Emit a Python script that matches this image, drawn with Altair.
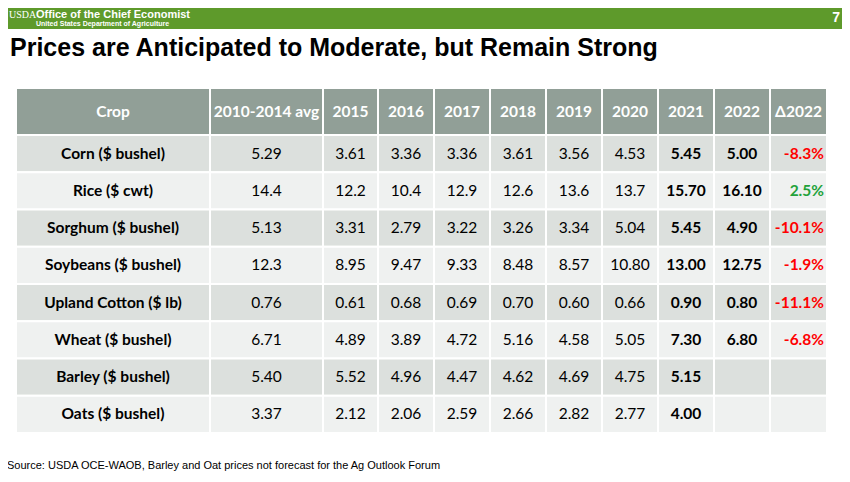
import altair as alt
import pandas as pd

# ---------------- data ----------------
columns = ["Crop", "2010-2014 avg", "2015", "2016", "2017", "2018", "2019",
           "2020", "2021", "2022", "\u03942022"]
crops = ["Corn ($ bushel)", "Rice ($ cwt)", "Sorghum ($ bushel)",
         "Soybeans ($ bushel)", "Upland Cotton ($ lb)", "Wheat ($ bushel)",
         "Barley ($ bushel)", "Oats ($ bushel)"]
avg_2010_2014 = ["5.29", "14.4", "5.13", "12.3", "0.76", "6.71", "5.40", "3.37"]
p2015 = ["3.61", "12.2", "3.31", "8.95", "0.61", "4.89", "5.52", "2.12"]
p2016 = ["3.36", "10.4", "2.79", "9.47", "0.68", "3.89", "4.96", "2.06"]
p2017 = ["3.36", "12.9", "3.22", "9.33", "0.69", "4.72", "4.47", "2.59"]
p2018 = ["3.61", "12.6", "3.26", "8.48", "0.70", "5.16", "4.62", "2.66"]
p2019 = ["3.56", "13.6", "3.34", "8.57", "0.60", "4.58", "4.69", "2.82"]
p2020 = ["4.53", "13.7", "5.04", "10.80", "0.66", "5.05", "4.75", "2.77"]
p2021 = ["5.45", "15.70", "5.45", "13.00", "0.90", "7.30", "5.15", "4.00"]
p2022 = ["5.00", "16.10", "4.90", "12.75", "0.80", "6.80", "", ""]
delta2022 = ["-8.3%", "2.5%", "-10.1%", "-1.9%", "-11.1%", "-6.8%", "", ""]

title = "Prices are Anticipated to Moderate, but Remain Strong"
source = "Source: USDA OCE-WAOB, Barley and Oat prices not forecast for the Ag Outlook Forum"

# ---------------- layout / style ----------------
W, H = 834, 466
col_widths = [194, 113, 55, 56, 56, 56, 56, 56, 56, 56, 57]
table_left = 8
header_top, header_h, row_h = 80, 47, 37.25
FONT = "Lato"
HEADER_FILL = "#919f97"
ROW_FILLS = ["#dce0dd", "#eff1f0"]
GREEN_BAR = "#5e9a2b"

col_edges = [table_left]
for w in col_widths:
    col_edges.append(col_edges[-1] + w)

body_cols = [avg_2010_2014, p2015, p2016, p2017, p2018, p2019, p2020, p2021, p2022]

rects, texts = [], []
# header
for j, name in enumerate(columns):
    x0, x1 = col_edges[j], col_edges[j + 1]
    rects.append(dict(x0=x0, x1=x1, y0=header_top, y1=header_top + header_h, fill=HEADER_FILL))
    texts.append(dict(x=(x0 + x1) / 2, y=header_top + header_h / 2, t=name,
                      color="white", kind="bold"))
# body
for i, crop in enumerate(crops):
    y0 = header_top + header_h + i * row_h
    y1 = y0 + row_h
    yc = (y0 + y1) / 2
    fill = ROW_FILLS[i % 2]
    for j in range(len(columns)):
        rects.append(dict(x0=col_edges[j], x1=col_edges[j + 1], y0=y0, y1=y1, fill=fill))
    texts.append(dict(x=(col_edges[0] + col_edges[1]) / 2, y=yc, t=crop, color="black", kind="bold"))
    for k, vals in enumerate(body_cols):
        j = k + 1
        kind = "bold" if columns[j] in ("2021", "2022") else "normal"
        texts.append(dict(x=(col_edges[j] + col_edges[j + 1]) / 2, y=yc, t=vals[i],
                          color="black", kind=kind))
    d = delta2022[i]
    if d:
        texts.append(dict(x=col_edges[-1] - 3, y=yc, t=d,
                          color="#ff0000" if d.startswith("-") else "#22a23a", kind="right"))

rdf = pd.DataFrame(rects)
tdf = pd.DataFrame(texts)

xs = alt.Scale(domain=[0, W], range=[0, W], nice=False, zero=False)
ys = alt.Scale(domain=[0, H], range=[0, H], nice=False, zero=False)

cells = alt.Chart(rdf).mark_rect(stroke="white", strokeWidth=2).encode(
    x=alt.X("x0:Q", scale=xs, axis=None), x2="x1:Q",
    y=alt.Y("y0:Q", scale=ys, axis=None), y2="y1:Q",
    color=alt.Color("fill:N", scale=None),
)

def text_layer(kind, weight, align):
    return alt.Chart(tdf[tdf.kind == kind]).mark_text(
        font=FONT, fontSize=15.5, fontWeight=weight, align=align, baseline="middle"
    ).encode(
        x=alt.X("x:Q", scale=xs, axis=None),
        y=alt.Y("y:Q", scale=ys, axis=None),
        text="t:N",
        color=alt.Color("color:N", scale=None),
    )

t_norm = text_layer("normal", "normal", "center")
t_bold = text_layer("bold", "bold", "center")
t_right = text_layer("right", "bold", "right")

# banner
banner_df = pd.DataFrame({"a": [0]})
banner = alt.Chart(banner_df).mark_rect(color=GREEN_BAR).encode(
    x=alt.value(0), x2=alt.value(W), y=alt.value(0), y2=alt.value(21))
usda = alt.Chart(banner_df).mark_text(
    text="USDA", font="Liberation Serif", fontSize=10, color="white",
    align="left", baseline="middle").encode(x=alt.value(1), y=alt.value(7))
office = alt.Chart(banner_df).mark_text(
    text="Office of the Chief Economist", font="Liberation Sans", fontSize=11,
    fontWeight="bold", color="white", align="left", baseline="middle").encode(
    x=alt.value(28), y=alt.value(7))
dept = alt.Chart(banner_df).mark_text(
    text="United States Department of Agriculture", font="Liberation Sans", fontSize=7,
    fontWeight="bold", color="white", align="left", baseline="middle").encode(
    x=alt.value(28), y=alt.value(16))
page = alt.Chart(banner_df).mark_text(
    text="7", font="Liberation Sans", fontSize=14, fontWeight="bold", color="white",
    align="right", baseline="middle").encode(x=alt.value(W - 2), y=alt.value(10))
ttl = alt.Chart(banner_df).mark_text(
    text=title, font="Liberation Sans", fontSize=25, fontWeight="bold", color="black",
    align="left", baseline="alphabetic").encode(x=alt.value(2), y=alt.value(48))
src = alt.Chart(banner_df).mark_text(
    text=source, font="Liberation Sans", fontSize=11, color="black",
    align="left", baseline="middle").encode(x=alt.value(-1), y=alt.value(458))

chart = alt.layer(banner, usda, office, dept, page, ttl, cells, t_norm, t_bold, t_right, src).properties(
    width=W, height=H, padding=0, autosize=alt.AutoSizeParams(type="none")
).configure_view(strokeWidth=0)

chart.save("out.html", embed_options={"renderer": "svg", "actions": False})
